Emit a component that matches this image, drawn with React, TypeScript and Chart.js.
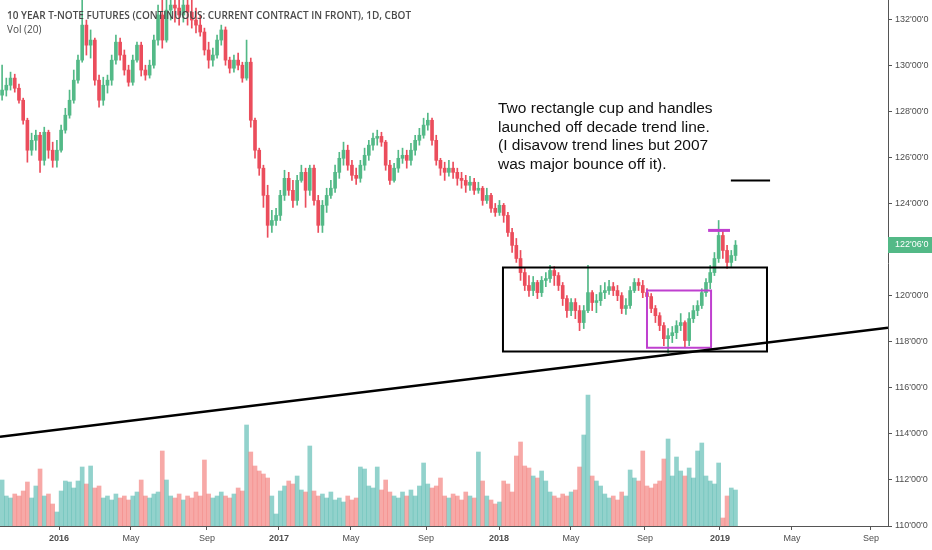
import React, { useEffect, useRef } from "react";
import { Chart, registerables } from "chart.js";

Chart.register(...registerables);

// Weekly candles [open, high, low, close], week 0 = end of Sep 2015
const candles: [number, number, number, number][] = [
  [128.70,130.00,128.48,128.92],[128.92,129.44,128.66,129.13],[129.13,129.70,128.92,129.44],[129.44,129.61,128.83,129.00],
  [129.00,129.18,128.35,128.48],[128.48,128.57,127.44,127.61],[127.61,127.70,125.79,126.31],[126.31,127.05,126.09,126.74],
  [126.74,127.18,126.31,126.96],[126.96,127.09,125.35,125.87],[125.87,127.31,125.66,127.09],[127.09,127.18,125.96,126.31],
  [126.31,126.66,125.57,125.87],[125.87,126.74,125.57,126.31],[126.31,127.40,126.22,127.18],[127.18,128.13,127.05,127.83],
  [127.83,128.92,127.70,128.48],[128.48,129.79,128.35,129.35],[129.35,130.44,129.22,130.22],[130.22,132.83,130.13,131.74],
  [131.74,131.96,130.44,130.87],[130.87,131.53,130.31,131.09],[131.09,131.18,129.13,129.35],[129.35,129.57,128.18,128.48],
  [128.48,129.48,128.26,129.13],[129.13,129.57,128.79,129.35],[129.35,130.44,129.13,130.22],[130.22,131.31,130.05,131.00],
  [131.00,131.18,130.22,130.44],[130.44,130.66,129.57,129.79],[129.79,130.00,129.09,129.26],[129.26,130.44,129.13,130.22],
  [130.22,131.00,130.13,130.87],[130.87,131.00,129.53,129.79],[129.79,130.00,129.35,129.57],[129.57,130.22,129.44,130.00],
  [130.00,131.31,129.87,131.09],[131.09,132.61,130.87,132.18],[132.18,132.83,130.74,131.09],[131.09,132.83,131.00,132.39],
  [132.39,133.26,131.96,132.61],[132.61,133.35,131.87,132.48],[132.48,133.04,131.74,132.18],[132.18,133.18,131.87,132.61],
  [132.61,133.04,131.74,132.30],[132.30,132.83,131.61,131.96],[131.96,132.48,131.40,131.74],[131.74,132.18,131.26,131.44],
  [131.44,131.61,130.44,130.66],[130.66,131.00,129.87,130.22],[130.22,130.74,129.96,130.44],[130.44,131.31,130.31,131.09],
  [131.09,131.74,130.87,131.53],[131.53,131.66,130.00,130.22],[130.22,130.35,129.66,129.87],[129.87,130.44,129.70,130.22],
  [130.22,130.53,129.79,130.00],[130.00,130.13,129.26,129.44],[129.44,131.09,129.35,130.13],[130.13,130.31,127.31,127.61],
  [127.61,127.70,125.96,126.31],[126.31,126.40,125.22,125.53],[125.53,125.66,123.83,124.35],[124.35,124.79,122.53,123.05],
  [123.05,123.70,122.74,123.26],[123.26,123.79,123.05,123.48],[123.48,124.57,123.26,124.35],[124.35,125.44,124.13,125.09],
  [125.09,125.35,124.35,124.57],[124.57,125.00,123.83,124.13],[124.13,125.22,123.92,125.00],[125.00,125.66,124.92,125.35],
  [125.35,125.53,123.83,124.57],[124.57,125.66,124.35,125.53],[125.53,125.66,123.92,124.13],[124.13,124.35,122.74,123.05],
  [123.05,124.13,122.74,123.92],[123.92,124.66,123.61,124.35],[124.35,125.00,124.22,124.66],[124.66,125.66,124.48,125.35],
  [125.35,126.22,125.09,125.96],[125.96,126.66,125.66,126.31],[126.31,126.53,125.44,125.66],[125.66,125.87,125.00,125.22],
  [125.22,125.53,124.83,125.09],[125.09,125.87,124.92,125.66],[125.66,126.40,125.44,126.09],[126.09,126.74,125.87,126.53],
  [126.53,127.05,126.31,126.83],[126.83,127.18,126.53,126.91],[126.91,127.09,126.48,126.66],[126.66,126.74,125.44,125.66],
  [125.66,125.87,124.83,125.00],[125.00,125.74,124.92,125.53],[125.53,126.31,125.35,125.96],[125.96,126.40,125.74,126.09],
  [126.09,126.31,125.53,125.87],[125.87,126.61,125.66,126.31],[126.31,126.96,126.09,126.74],[126.74,127.26,126.53,126.96],
  [126.96,127.70,126.83,127.40],[127.40,127.92,127.18,127.61],[127.61,127.70,126.53,126.74],[126.74,126.96,125.66,125.87],
  [125.87,125.96,125.22,125.53],[125.53,125.79,125.00,125.35],[125.35,125.87,125.18,125.53],[125.53,125.79,125.09,125.35],
  [125.35,125.53,124.79,125.09],[125.09,125.35,124.66,125.00],[125.00,125.22,124.48,124.79],[124.79,125.18,124.57,124.92],
  [124.92,125.09,124.39,124.57],[124.57,124.92,124.44,124.66],[124.66,124.74,123.92,124.13],[124.13,124.66,124.00,124.35],
  [124.35,124.44,123.61,123.79],[123.79,124.00,123.44,123.61],[123.61,124.13,123.48,123.92],[123.92,124.00,123.18,123.48],
  [123.48,123.61,122.57,122.74],[122.74,122.92,121.87,122.18],[122.18,122.48,121.44,121.61],[121.61,121.96,120.66,121.00],
  [121.00,121.18,120.22,120.44],[120.44,120.87,119.96,120.22],[120.22,120.83,120.00,120.57],[120.57,120.66,119.87,120.13],
  [120.13,120.83,119.96,120.66],[120.66,121.00,120.39,120.74],[120.74,121.31,120.57,121.09],[121.09,121.26,120.44,120.87],
  [120.87,121.00,120.22,120.44],[120.44,120.57,119.57,119.87],[119.87,120.00,119.05,119.35],[119.35,119.87,119.13,119.70],
  [119.70,119.87,119.00,119.35],[119.35,119.57,118.48,118.83],[118.83,119.57,118.57,119.35],[119.35,121.31,119.26,120.13],
  [120.13,120.22,119.35,119.70],[119.70,120.05,119.26,119.78],[119.78,120.44,119.57,120.13],[120.13,120.57,119.87,120.22],
  [120.22,120.66,120.05,120.39],[120.39,120.57,120.00,120.22],[120.22,120.44,119.78,120.00],[120.00,120.13,119.22,119.44],
  [119.44,119.87,119.18,119.57],[119.57,120.39,119.44,120.22],[120.22,120.74,120.13,120.57],[120.57,120.74,120.22,120.44],
  [120.44,120.66,119.91,120.13],[120.13,120.30,119.78,119.96],[119.96,120.09,119.26,119.44],[119.44,119.57,118.83,119.13],
  [119.13,119.26,118.48,118.70],[118.70,118.83,117.83,118.13],[118.13,118.57,117.52,118.26],[118.26,118.66,117.96,118.39],
  [118.39,118.91,118.13,118.70],[118.70,119.22,118.48,118.83],[118.83,118.91,117.74,118.05],[118.05,119.26,117.83,119.00],
  [119.00,119.57,118.83,119.35],[119.35,119.78,119.13,119.57],[119.57,120.30,119.44,120.13],[120.13,120.74,119.96,120.57],
  [120.57,121.31,120.30,121.00],[121.00,121.87,120.87,121.61],[121.61,123.26,121.44,122.61],[122.61,122.83,121.61,121.96],
  [121.96,122.18,121.18,121.44],[121.44,121.96,121.26,121.74],[121.74,122.39,121.52,122.19],
];

// Weekly volume (thousands of contracts)
const volumes: number[] = [
  1840,1200,1120,1280,1200,1400,1760,1120,1600,2280,1200,1280,880,560,1400,1800,1760,1520,1800,2360,
  1680,2400,1520,1600,1120,1200,1040,1280,1120,1200,1040,1200,1360,1840,1200,1120,1280,1360,3000,1840,
  1200,1120,1280,1040,1200,1120,1360,1200,2640,1280,1120,1200,1360,1200,1120,1280,1520,1400,4040,2960,
  2400,2200,2080,1920,1200,480,1400,1600,1800,1680,2000,1440,1360,3200,1400,1200,1280,1120,1360,1040,
  1120,960,1200,1040,1120,2360,2280,1600,1520,2360,1440,1840,1360,1200,1120,1360,1200,1440,1200,1600,
  2520,1680,1520,1600,1920,1200,1120,1280,1200,1040,1360,1200,1120,2960,1800,1200,1040,880,960,1800,
  1680,1360,2800,3360,2400,2320,2000,1920,2200,1800,1360,1200,1120,1280,1200,1360,1440,2360,3640,5240,
  2000,1800,1600,1280,1120,1200,1040,1360,1200,2240,1920,1800,3000,1600,1520,1680,1800,2680,3480,2000,
  2760,2200,2000,2320,1920,3000,3320,2000,1800,1680,2520,320,1200,1520,1440,
];

const yTicks = [110, 112, 114, 116, 118, 120, 122, 124, 126, 128, 130, 132];
const xTickWeeks = [14.0, 31.08, 49.11, 66.19, 83.27, 101.07, 118.39, 135.47, 153.02, 170.82, 187.9, 206.64];
const xTickLabels = ["2016", "May", "Sep", "2017", "May", "Sep", "2018", "May", "Sep", "2019", "May", "Sep"];
const xRange = { min: 0, max: 210.68 };
const yRange = { min: 110, max: 132.83 };
const volMax = 21040;

const trendLine = [{ x: 0, y: 113.87 }, { x: 210.68, y: 118.61 }];
const rangeBox = { left: 119.33, right: 181.97, top: 121.22, bottom: 117.57 };
const cupBox = { left: 153.5, right: 168.7, top: 120.22, bottom: 117.74 };
const targetLine = [{ x: 173.4, y: 125.0 }, { x: 182.7, y: 125.0 }];
const highMark = [{ x: 168.0, y: 122.83 }, { x: 173.2, y: 122.83 }];

const lastPrice = 122.19;
const lastPriceLabel = "122'06'0";
const titleText = "10 YEAR T-NOTE FUTURES (CONTINUOUS: CURRENT CONTRACT IN FRONT), 1D, CBOT";
const volText = "Vol (20)";
const noteLines = [
  "Two rectangle cup and handles",
  "launched off decade trend line.",
  "(I disavow trend lines but 2007",
  "was major bounce off it).",
];

const UP = "#53b987";
const DOWN = "#eb4d5c";
const VOL_UP = "rgba(38,166,154,0.5)";
const VOL_DOWN = "rgba(239,83,80,0.5)";
const AXIS = "#555555";
const TEXT = "#4d4d4d";
const FONT = "'Liberation Sans', Arial, sans-serif";

const boxPath = (b: { left: number; right: number; top: number; bottom: number }) => [
  { x: b.left, y: b.top },
  { x: b.right, y: b.top },
  { x: b.right, y: b.bottom },
  { x: b.left, y: b.bottom },
  { x: b.left, y: b.top },
];

const priceLabelPlugin = {
  id: "priceLabel",
  afterDraw(chart: any) {
    const { ctx, scales } = chart;
    const y = scales.y.getPixelForValue(lastPrice);
    const left = scales.y.left;
    ctx.save();
    ctx.fillStyle = UP;
    ctx.fillRect(left, Math.round(y - 8), chart.width - left, 16);
    ctx.fillStyle = "#ffffff";
    ctx.font = `9px ${FONT}`;
    ctx.textBaseline = "middle";
    ctx.textAlign = "left";
    ctx.fillText(lastPriceLabel, left + 7, Math.round(y));
    ctx.restore();
  },
};

const zeroPadding = (axis: any) => {
  axis.paddingTop = 0;
  axis.paddingBottom = 0;
  axis.paddingLeft = 0;
  axis.paddingRight = 0;
};

export default function App() {
  const ref = useRef<HTMLCanvasElement>(null);

  useEffect(() => {
    document.body.style.margin = "0";
    const canvas = ref.current;
    if (!canvas) return;
    const up = candles.map((c) => c[3] >= c[0]);
    const xs = candles.map((_, i) => i + 0.5);
    const lineBase = {
      type: "line" as const,
      pointRadius: 0,
      fill: false,
      tension: 0,
      borderCapStyle: "square" as const,
      borderJoinStyle: "miter" as const,
      xAxisID: "x",
      yAxisID: "y",
      order: 0,
    };
    const chart = new Chart(canvas, {
      type: "bar",
      data: {
        datasets: [
          { ...lineBase, label: "trend", data: trendLine, borderColor: "#000000", borderWidth: 2.5, borderCapStyle: "butt" },
          { ...lineBase, label: "range", data: boxPath(rangeBox), borderColor: "#000000", borderWidth: 2 },
          { ...lineBase, label: "cup", data: boxPath(cupBox), borderColor: "#bf40cf", borderWidth: 2 },
          { ...lineBase, label: "target", data: targetLine, borderColor: "#000000", borderWidth: 2, borderCapStyle: "butt" },
          { ...lineBase, label: "high", data: highMark, borderColor: "#bf40cf", borderWidth: 3, borderCapStyle: "butt" },
          {
            type: "bar",
            label: "body",
            data: candles.map((c, i) => ({ x: xs[i], y: [c[0], c[3]] })) as any,
            backgroundColor: up.map((u) => (u ? UP : DOWN)),
            barThickness: 3,
            minBarLength: 1,
            grouped: false,
            xAxisID: "x",
            yAxisID: "y",
            order: 1,
          },
          {
            type: "bar",
            label: "wick",
            data: candles.map((c, i) => ({ x: xs[i], y: [c[2], c[1]] })) as any,
            backgroundColor: up.map((u) => (u ? UP : DOWN)),
            barThickness: 1,
            grouped: false,
            xAxisID: "x",
            yAxisID: "y",
            order: 2,
          },
          {
            type: "bar",
            label: "volume",
            data: volumes.map((v, i) => ({ x: xs[i], y: v })) as any,
            backgroundColor: up.map((u) => (u ? VOL_UP : VOL_DOWN)),
            barThickness: 4,
            grouped: false,
            xAxisID: "x",
            yAxisID: "vol",
            order: 3,
          },
        ] as any,
      },
      options: {
        responsive: false,
        animation: false,
        events: [],
        layout: { padding: 0 },
        plugins: { legend: { display: false }, tooltip: { enabled: false }, title: { display: false } },
        scales: {
          x: {
            type: "linear",
            position: "bottom",
            min: xRange.min,
            max: xRange.max,
            offset: false,
            grid: { display: true, drawOnChartArea: false, drawTicks: true, tickLength: 4, color: AXIS, offset: false },
            border: { display: true, color: AXIS, width: 1 },
            ticks: {
              autoSkip: false,
              maxRotation: 0,
              padding: 3,
              color: TEXT,
              font: (c: any) => {
                const idx = c.tick ? xTickWeeks.indexOf(c.tick.value) : -1;
                const lbl = idx >= 0 ? xTickLabels[idx] : "";
                return { family: FONT, size: 9, weight: /^\d{4}$/.test(lbl) ? "bold" : "normal" };
              },
              callback: (value: any) => {
                const idx = xTickWeeks.indexOf(Number(value));
                return idx >= 0 ? xTickLabels[idx] : "";
              },
            },
            afterBuildTicks: (axis: any) => {
              axis.ticks = xTickWeeks.map((v) => ({ value: v }));
            },
            afterFit: (axis: any) => {
              axis.height = 24;
              zeroPadding(axis);
            },
          },
          y: {
            type: "linear",
            position: "right",
            min: yRange.min,
            max: yRange.max,
            grid: { display: true, drawOnChartArea: false, drawTicks: true, tickLength: 4, color: AXIS },
            border: { display: true, color: AXIS, width: 1 },
            ticks: {
              padding: 3,
              color: TEXT,
              font: { family: FONT, size: 9 },
              callback: (value: any) => `${value}'00'0`,
            },
            afterBuildTicks: (axis: any) => {
              axis.ticks = yTicks.map((v) => ({ value: v }));
            },
            afterFit: (axis: any) => {
              axis.width = 44;
              zeroPadding(axis);
            },
          },
          vol: {
            type: "linear",
            display: false,
            min: 0,
            max: volMax,
          },
        },
      } as any,
      plugins: [priceLabelPlugin],
    });
    return () => chart.destroy();
  }, []);

  return (
    <div style={{ position: "relative", width: 932, height: 550, background: "#ffffff", overflow: "hidden" }}>
      <canvas ref={ref} width={932} height={550} style={{ display: "block", width: 932, height: 550 }} />
      <div
        style={{
          position: "absolute",
          left: 7,
          top: 9,
          font: `600 10px 'Open Sans', sans-serif`,
          lineHeight: "13px",
          color: "#4a4a4a",
          whiteSpace: "nowrap",
        }}
      >
        {titleText}
      </div>
      <div
        style={{
          position: "absolute",
          left: 7,
          top: 23,
          font: `400 10px 'Open Sans', sans-serif`,
          lineHeight: "13px",
          color: "#4a4a4a",
          whiteSpace: "nowrap",
        }}
      >
        {volText}
      </div>
      <div
        style={{
          position: "absolute",
          left: 498,
          top: 99,
          font: `15.5px ${FONT}`,
          lineHeight: "18.5px",
          color: "#111111",
          whiteSpace: "nowrap",
        }}
      >
        {noteLines.map((l, i) => (
          <div key={i}>{l}</div>
        ))}
      </div>
    </div>
  );
}
